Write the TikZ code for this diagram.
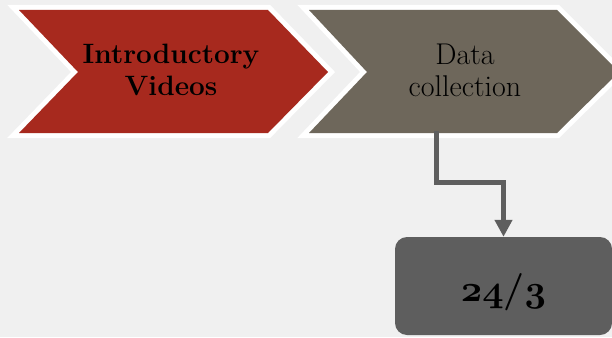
\documentclass[tikz,border=0pt]{standalone}
\usepackage{graphicx}
\usetikzlibrary{arrows.meta}

\definecolor{paper}{RGB}{240,240,240}
\definecolor{brickred}{RGB}{167,41,30}
\definecolor{taupe}{RGB}{110,103,91}
\definecolor{slate}{RGB}{94,94,94}

% bold old-style figures
\newcommand{\boldold}[1]{{\fontencoding{OML}\fontfamily{cmm}\fontseries{b}\fontshape{it}\selectfont #1}}

\begin{document}
\begin{tikzpicture}[x=1pt,y=-1pt,
  chevron/.style={preaction={draw=white,line width=10pt,line join=miter}},
  chevtext/.style={align=center,text=black,font=\fontsize{30}{32}\selectfont},
  datebox/.style={fill=slate,rounded corners=12pt,minimum width=217pt,
    minimum height=98pt,font=\bfseries\fontsize{24.88}{26}\selectfont},
  conn/.style={draw=slate,line width=5pt,-{Triangle[width=17pt,length=17pt]}}]

  % Background
  \fill[paper] (0,0) rectangle (612,337);
  \useasboundingbox (0,0) rectangle (612,337);

  % Chevrons
  \fill[chevron,brickred] (19,10)--(268,10)--(328,72)--(268,133)--(19,133)--(78,72)--cycle;
  \fill[chevron,taupe] (309,10)--(557,10)--(619,72)--(557,133)--(309,133)--(367,72)--cycle;
  \node[chevtext,font=\bfseries\fontsize{28}{32}\selectfont] (intro) at (171,70) {Introductory\\Videos};
  \node[chevtext] (collect) at (465,70) {Data\\collection};

  % Box
  \node[datebox] (date) at (503.5,286)
    {\raisebox{-15pt}[0pt][0pt]{\scalebox{1.5}{\boldold{24}/\boldold{3}}}};

  % Arrow
  \coordinate (start) at (436,131);
  \coordinate (bend) at (436,182);
  \draw[conn] (start) -- (bend) -| (date.north);
\end{tikzpicture}
\end{document}
